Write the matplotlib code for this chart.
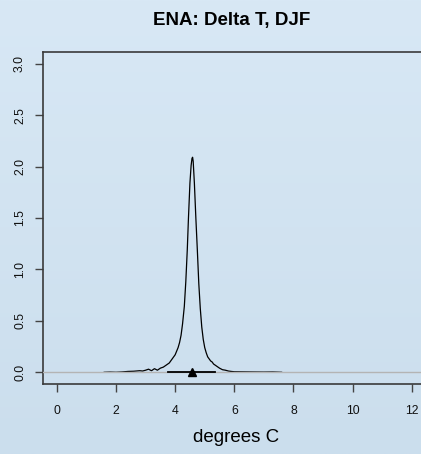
import numpy as np
import matplotlib
matplotlib.use('Agg')
import matplotlib.pyplot as plt

plt.rcParams['font.family'] = ['Liberation Sans', 'DejaVu Sans']

# density curve
dens_x = [1.6, 1.8, 2.0, 2.2, 2.4, 2.6, 2.8, 2.9, 3.0, 3.1, 3.2, 3.3, 3.4, 3.5,
          3.6, 3.7, 3.8, 3.85, 3.9, 4.0, 4.1, 4.15, 4.2, 4.25, 4.31, 4.36,
          4.41, 4.45, 4.5, 4.54, 4.57, 4.59, 4.61, 4.65, 4.7, 4.75, 4.8,
          4.85, 4.9, 4.95, 5.0, 5.05, 5.1, 5.2, 5.25, 5.3, 5.4, 5.5, 5.6,
          5.7, 5.8, 5.9, 6.0, 6.3, 6.6, 7.0, 7.3, 7.6]
dens_y = [0.0, 0.002, 0.0, 0.003, 0.008, 0.01, 0.015, 0.012, 0.02, 0.03, 0.015,
          0.035, 0.02, 0.04, 0.05, 0.07, 0.09, 0.11, 0.13, 0.17, 0.24, 0.29,
          0.36, 0.47, 0.64, 0.88, 1.19, 1.50, 1.84, 2.01, 2.08, 2.09, 2.05,
          1.84, 1.50, 1.19, 0.86, 0.62, 0.44, 0.32, 0.24, 0.19, 0.15, 0.11,
          0.10, 0.08, 0.06, 0.04, 0.025, 0.02, 0.012, 0.008, 0.005, 0.004,
          0.003, 0.002, 0.003, 0.0]

median_x = 4.58
range_lo, range_hi = 3.76, 5.35

x_ticks = [0, 2, 4, 6, 8, 10, 12]
y_ticks = [0.0, 0.5, 1.0, 1.5, 2.0, 2.5, 3.0]

W, H = 421, 454
fig = plt.figure(figsize=(W/100, H/100), dpi=100)
fig.patch.set_facecolor('#d0e2f0')

# soft background gradient
bg = fig.add_axes([0, 0, 1, 1], zorder=-10)
grad = np.linspace(0, 1, 200).reshape(-1, 1)
bg.imshow(grad, aspect='auto', cmap=matplotlib.colors.LinearSegmentedColormap.from_list(
    'bgc', ['#d8e8f5', '#cbdeed']), extent=[0, 1, 0, 1], origin='upper')
bg.axis('off')

left = 42.7/W
bottom = (H-384.3)/H
top = (H-51.7)/H
ax = fig.add_axes([left, bottom, 1.02-left, top-bottom])
ax.set_facecolor('none')

ax.plot(dens_x, dens_y, color='black', lw=0.9, zorder=2)
ax.axhline(0, color='#b4b4b4', lw=1.0, zorder=3)
ax.plot([range_lo, range_hi], [0, 0], color='black', lw=1.3, zorder=4)
ax.plot([median_x], [0], marker='^', color='black', ms=6, zorder=5)

ax.set_xlim(-0.48, 12.6)
ax.set_ylim(-0.117, 3.116)
ax.set_xticks(x_ticks)
ax.set_yticks(y_ticks)
ax.set_yticklabels(['%.1f' % v for v in y_ticks], rotation=90, va='center')

for s in ['left', 'bottom', 'top']:
    ax.spines[s].set_color('#3a3a3a')
    ax.spines[s].set_linewidth(1.2)
ax.spines['right'].set_visible(False)
ax.tick_params(direction='out', length=6, width=1, color='#444444',
               labelsize=8.8, labelcolor='#111111')
ax.tick_params(axis='x', pad=9)
ax.tick_params(axis='y', pad=6)

fig.text(232/W, 1-20/H, 'ENA: Delta T, DJF', ha='center', va='center',
         fontsize=13.5, fontweight='bold')
fig.text(236/W, 1-438/H, 'degrees C', ha='center', va='center', fontsize=13.5)

fig.savefig('out.png', dpi=100)
